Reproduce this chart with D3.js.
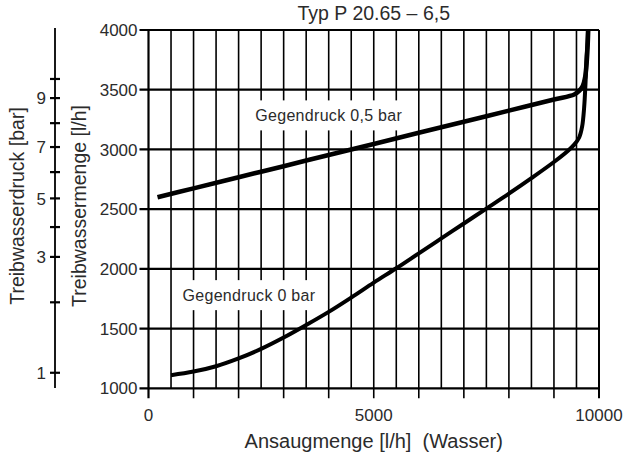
<!DOCTYPE html>
<html><head><meta charset="utf-8">
<script src="https://cdn.jsdelivr.net/npm/d3@7"></script>
<style>
body{margin:0;background:#fff}
svg{display:block}
text{font-family:"Liberation Sans",Arial,Helvetica,sans-serif;fill:#2b2b2b;white-space:pre}
</style>
</head><body>
<svg id="chart" width="626" height="459"></svg>
<script>
// ---- data ----
const titleText = "Typ P 20.65 – 6,5";
const xTitle = "Ansaugmenge [l/h]  (Wasser)";
const yTitle = "Treibwassermenge [l/h]";
const pTitle = "Treibwasserdruck [bar]";

const xDomain = [0, 10000];
const yDomain = [1000, 4000];
const xTickLabels = [0, 5000, 10000];
const xGrid = [500, 1000, 1500, 2000, 2500, 3000, 3500, 4000, 4500, 5000, 5500, 6000, 6500, 7000, 7500, 8000, 8500, 9000, 9500, 10000];
const yTicks = [1000, 1500, 2000, 2500, 3000, 3500, 4000];

// pressure scale (bar) and the corresponding flow on the right axis
const pressureTicks = [1, 2, 3, 4, 5, 6, 7, 8, 9, 10];
const pressureFlow = [1130, 1720, 2100, 2350, 2590, 2810, 3020, 3220, 3430, 3590];
const pressureLabels = [1, 3, 5, 7, 9];

// Gegendruck 0,5 bar
const halfBarX = [200, 1000, 2000, 3000, 4000, 5000, 6000, 7000, 8000, 9000, 9450, 9560, 9640, 9690, 9720, 9745, 9760];
const halfBarY = [2600, 2674, 2767, 2860, 2953, 3046, 3139, 3232, 3325, 3418, 3460, 3490, 3530, 3600, 3700, 3850, 4000];
// Gegendruck 0 bar
const zeroBarX = [500, 1000, 1500, 2000, 2500, 3000, 3500, 4000, 4500, 5000, 5500, 6000, 6500, 7000, 7500, 8000, 8500, 9000, 9300, 9450, 9560, 9625, 9670, 9700, 9725, 9745, 9755];
const zeroBarY = [1110, 1140, 1185, 1250, 1330, 1425, 1530, 1640, 1760, 1885, 2005, 2130, 2255, 2380, 2505, 2630, 2760, 2895, 2985, 3040, 3100, 3190, 3350, 3550, 3780, 3900, 4000];

const labelHalf = {text: "Gegendruck 0,5 bar", x: 4000, y: 3285};
const labelZero = {text: "Gegendruck 0 bar", x: 2230, y: 1780};

// ---- drawing ----
const svg = d3.select("#chart");
const x = d3.scaleLinear().domain(xDomain).range([148.5, 599]);
const y = d3.scaleLinear().domain(yDomain).range([388.3, 30]);
const pToFlow = d3.scaleLinear().domain(pressureTicks).range(pressureFlow);

const g = svg.append("g");

// vertical gridlines
g.selectAll(".vg").data(xGrid).join("line")
  .attr("x1", d => x(d)).attr("x2", d => x(d))
  .attr("y1", y(4000)).attr("y2", d => d % 1000 === 0 ? y(1000) + 10 : y(1000))
  .attr("stroke", "#000").attr("stroke-width", d => d === 10000 ? 2 : 1.6);

// axis line at 0
g.append("line")
  .attr("x1", x(0)).attr("x2", x(0))
  .attr("y1", y(4000)).attr("y2", y(1000) + 10)
  .attr("stroke", "#000").attr("stroke-width", 2.2);

// horizontal gridlines + y ticks
g.selectAll(".hg").data(yTicks).join("line")
  .attr("x1", x(0) - 9).attr("x2", x(10000))
  .attr("y1", d => y(d)).attr("y2", d => y(d))
  .attr("stroke", "#000").attr("stroke-width", 2.2);

// y tick labels
g.selectAll(".yl").data(yTicks).join("text")
  .attr("x", x(0) - 11).attr("y", d => y(d)).attr("dy", "0.36em")
  .attr("text-anchor", "end").attr("font-size", 17)
  .text(d => d);

// x tick labels
g.selectAll(".xl").data(xTickLabels).join("text")
  .attr("x", d => x(d)).attr("y", 421)
  .attr("text-anchor", "middle").attr("font-size", 17)
  .text(d => d);

// label boxes
function labelBox(lbl, size) {
  const t = g.append("text")
    .attr("x", x(lbl.x)).attr("y", y(lbl.y)).attr("dy", "0.36em")
    .attr("text-anchor", "middle").attr("font-size", size)
    .attr("letter-spacing", 0.3)
    .text(lbl.text);
  const bb = t.node().getBBox();
  g.insert("rect", () => t.node())
    .attr("x", bb.x - 6).attr("y", y(lbl.y) - 15)
    .attr("width", bb.width + 12).attr("height", 30)
    .attr("fill", "#fff");
}
labelBox(labelHalf, 16);
labelBox(labelZero, 16);

// curves
const line = d3.line().x(d => x(d[0])).y(d => y(d[1])).curve(d3.curveCatmullRom.alpha(0.5));
g.append("path")
  .datum(halfBarX.map((v, i) => [v, halfBarY[i]]))
  .attr("d", line).attr("fill", "none").attr("stroke", "#000")
  .attr("stroke-width", 4.6).attr("stroke-linejoin", "round");
g.append("path")
  .datum(zeroBarX.map((v, i) => [v, zeroBarY[i]]))
  .attr("d", line).attr("fill", "none").attr("stroke", "#000")
  .attr("stroke-width", 4).attr("stroke-linejoin", "round");

// pressure axis
const px = 55;
g.append("line").attr("x1", px).attr("x2", px)
  .attr("y1", 28).attr("y2", 388)
  .attr("stroke", "#000").attr("stroke-width", 1.8);
g.selectAll(".pt").data(pressureTicks).join("line")
  .attr("x1", px - 5).attr("x2", px + 5)
  .attr("y1", d => y(pToFlow(d))).attr("y2", d => y(pToFlow(d)))
  .attr("stroke", "#000").attr("stroke-width", 2.2);
g.selectAll(".pl").data(pressureLabels).join("text")
  .attr("x", px - 9).attr("y", d => y(pToFlow(d))).attr("dy", "0.36em")
  .attr("text-anchor", "end").attr("font-size", 17)
  .text(d => d);

// titles
g.append("text").attr("x", (x(0) + x(10000)) / 2).attr("y", 20)
  .attr("text-anchor", "middle").attr("font-size", 19.5).text(titleText);
g.append("text").attr("x", (x(0) + x(10000)) / 2).attr("y", 448)
  .attr("text-anchor", "middle").attr("font-size", 20).text(xTitle);
g.append("text").attr("transform", "translate(24,206) rotate(-90)")
  .attr("text-anchor", "middle").attr("font-size", 19.5).text(pTitle);
g.append("text").attr("transform", "translate(86,206) rotate(-90)")
  .attr("text-anchor", "middle").attr("font-size", 19.5).text(yTitle);
</script>
</body></html>
